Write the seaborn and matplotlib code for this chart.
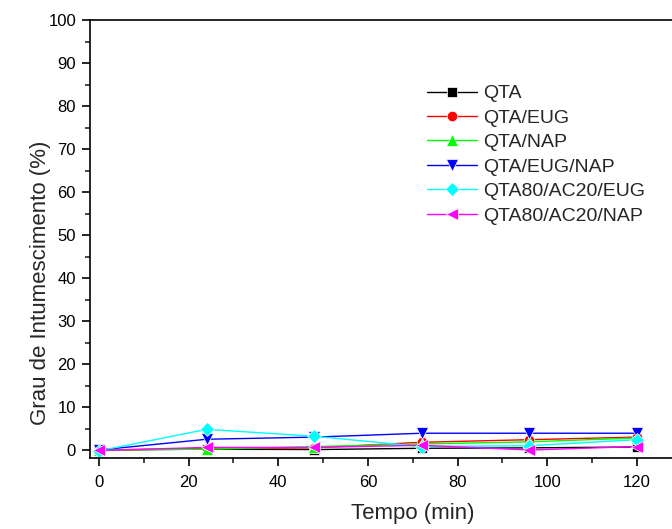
import pandas as pd
import seaborn as sns
import matplotlib.pyplot as plt
from matplotlib.ticker import FixedLocator, MultipleLocator

# Swelling degree over time for each formulation
tempo = [0, 24, 48, 72, 96, 120]
qta = [0.0, 0.2, 0.1, 0.4, 0.5, 0.7]
qta_eug = [0.0, 0.3, 0.5, 1.8, 2.4, 3.0]
qta_nap = [0.0, 0.2, 0.8, 1.4, 1.9, 2.8]
qta_eug_nap = [0.0, 2.5, 3.0, 3.9, 3.9, 3.9]
qta80_eug = [-0.2, 4.8, 3.2, 0.8, 1.0, 2.4]
qta80_nap = [-0.1, 0.6, 0.6, 1.1, 0.0, 0.8]

series = ["QTA", "QTA/EUG", "QTA/NAP", "QTA/EUG/NAP", "QTA80/AC20/EUG", "QTA80/AC20/NAP"]
values = [qta, qta_eug, qta_nap, qta_eug_nap, qta80_eug, qta80_nap]
colors = ["#000000", "#ff0000", "#00ff00", "#0000ff", "#00ffff", "#ff00ff"]
marker_list = ["s", "o", "^", "v", "D", "<"]
msizes = [6.5, 7.5, 8, 8, 7.5, 8]
x_ticks = [0, 20, 40, 60, 80, 100, 120]

frames = []
for name, vals in zip(series, values):
    frames.append(pd.DataFrame({"Tempo": tempo, "Grau": vals, "Amostra": name}))
df = pd.concat(frames, ignore_index=True)

sns.set_style("ticks")
plt.rcParams["font.family"] = ["Liberation Sans", "DejaVu Sans"]

fig = plt.figure(figsize=(6.72, 5.29), dpi=100)
# the frame runs past the right edge of the picture, as in the original
ax = fig.add_axes([90 / 672, 71 / 529, 646 / 672, 438 / 529])

sns.lineplot(data=df, x="Tempo", y="Grau", hue="Amostra", style="Amostra",
             palette=dict(zip(series, colors)), markers=dict(zip(series, marker_list)),
             dashes=False, linewidth=1, markersize=8, markeredgewidth=0.5,
             hue_order=series, style_order=series, ax=ax)

for line, ms in zip(ax.lines[:len(series)], msizes):
    line.set_markersize(ms)

ax.set_xlim(-2, 142.1)
ax.set_ylim(-1.86, 100)
ax.xaxis.set_major_locator(FixedLocator(x_ticks))
ax.xaxis.set_minor_locator(FixedLocator([10, 30, 50, 70, 90, 110, 130]))
ax.yaxis.set_major_locator(MultipleLocator(10))
ax.yaxis.set_minor_locator(MultipleLocator(5))
ax.tick_params(which="major", direction="out", length=6, width=1.2, labelsize=12, colors="black")
ax.tick_params(axis="x", which="major", pad=6)
ax.tick_params(axis="y", which="major", pad=4)
ax.tick_params(which="minor", direction="out", length=3.5, width=1.2)
for s in ax.spines.values():
    s.set_linewidth(1.2)
    s.set_color("black")

ax.set_xlabel("Tempo (min)", fontsize=16)
ax.set_ylabel("Grau de Intumescimento (%)", fontsize=16)
ax.xaxis.set_label_coords(0.5, -0.103)
ax.yaxis.set_label_coords(-0.06, 0.4)

leg = ax.legend(loc="upper left", bbox_to_anchor=(0.5217, 0.852), frameon=False,
                fontsize=14, handlelength=2.57, labelspacing=0.35, borderaxespad=0,
                borderpad=0, handletextpad=0.3)
for h, ms in zip(leg.legend_handles, msizes):
    h.set_markersize(ms)

fig.savefig("out.png", dpi=100)
